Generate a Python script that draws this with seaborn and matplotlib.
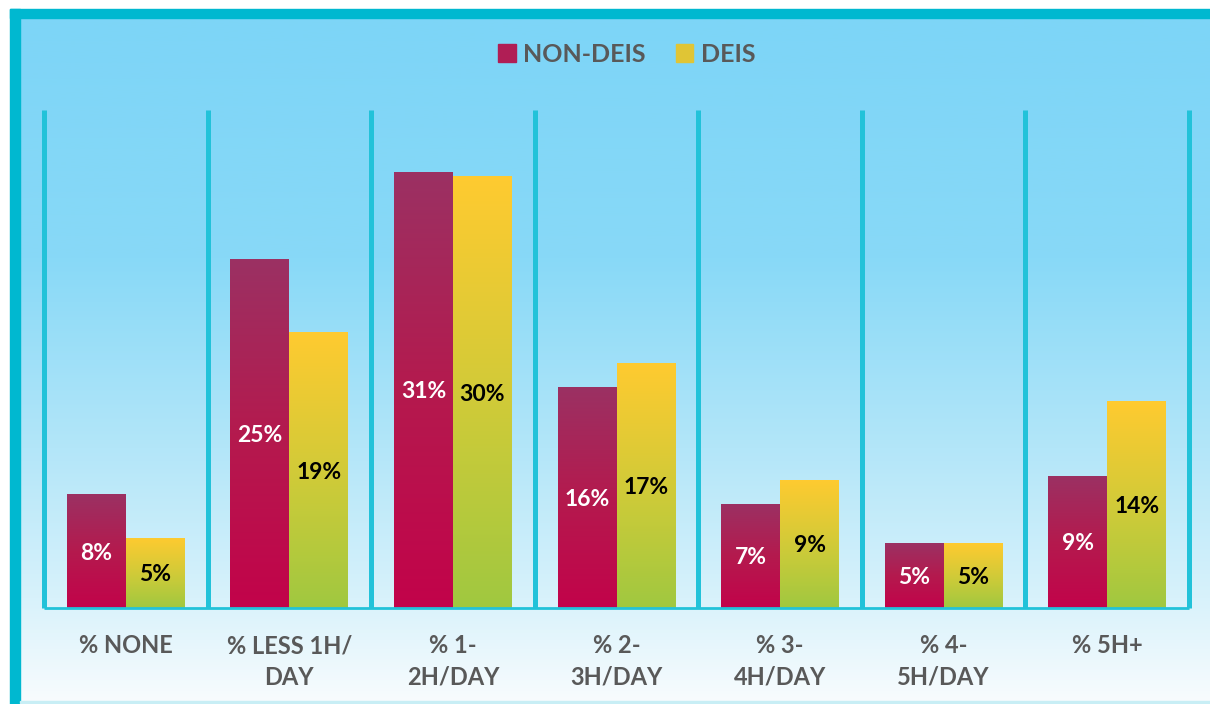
import matplotlib.pyplot as plt
import seaborn as sns
import pandas as pd
import numpy as np
from matplotlib.colors import LinearSegmentedColormap
from matplotlib.patches import Rectangle, Patch

# Dados
categorias = ["% NONE", "% LESS 1H/\nDAY", "% 1-\n2H/DAY", "% 2-\n3H/DAY",
              "% 3-\n4H/DAY", "% 4-\n5H/DAY", "% 5H+"]
non_deis = [8.1, 24.8, 31.0, 15.7, 7.4, 4.6, 9.4]
deis = [5.0, 19.6, 30.7, 17.4, 9.1, 4.6, 14.7]
non_deis_labels = ["8%", "25%", "31%", "16%", "7%", "5%", "9%"]
deis_labels = ["5%", "19%", "30%", "17%", "9%", "5%", "14%"]
grupos = ["NON-DEIS", "DEIS"]

df = pd.DataFrame({
    "Categoria": categorias * 2,
    "Valor": non_deis + deis,
    "Grupo": [grupos[0]] * len(categorias) + [grupos[1]] * len(categorias),
})

sns.set_theme(style="white")
plt.rcParams['font.family'] = ['Lato', 'DejaVu Sans']

W, H = 1210, 704
fig = plt.figure(figsize=(W / 100, H / 100), dpi=100)
fig.patch.set_facecolor("white")

# fundo com gradiente + moldura
ax_bg = fig.add_axes([0, 0, 1, 1], zorder=0)
ax_bg.set_xlim(0, W)
ax_bg.set_ylim(H, 0)
ax_bg.axis("off")
bg_cmap = LinearSegmentedColormap.from_list(
    "bg", [(0.0, "#7DD5F7"), (0.35, "#88D9F7"), (0.63, "#B3E6F9"),
           (0.85, "#D8F2FB"), (1.0, "#F8FCFE")])
grad = np.linspace(0, 1, 256).reshape(-1, 1)
ax_bg.imshow(grad, extent=[20, W, 702, 18], cmap=bg_cmap, aspect="auto")
ax_bg.add_patch(Rectangle((10, 9), 10, H - 9, color="#00B8D0"))
ax_bg.add_patch(Rectangle((10, 9), W - 10, 9, color="#00B8D0"))
ax_bg.add_patch(Rectangle((20, 701), W - 20, 2, color="#C8EEF5"))

ax = fig.add_axes([44 / W, 96 / H, 1145 / W, 498 / H], zorder=1)
ax.set_facecolor("none")

sns.barplot(data=df, x="Categoria", y="Valor", hue="Grupo",
            palette=["#B01E55", "#E0C535"], width=0.72, legend=False, ax=ax)

cmaps = [
    LinearSegmentedColormap.from_list("nd", ["#C2034A", "#B41A4E", "#9B3163"]),
    LinearSegmentedColormap.from_list("d", ["#A0C840", "#D2CB38", "#FFCA30"]),
]
bar_grad = np.linspace(1, 0, 256).reshape(-1, 1)
for cont, cm in zip(ax.containers, cmaps):
    for p in cont:
        x, w, h = p.get_x(), p.get_width(), p.get_height()
        im = ax.imshow(bar_grad, extent=[x, x + w, 0, h], cmap=cm,
                       aspect="auto", zorder=2)
        im.set_clip_path(p)
        p.set_facecolor("none")
        p.set_edgecolor("none")

for cont, labs, cor in zip(ax.containers, [non_deis_labels, deis_labels], ["white", "black"]):
    txts = ax.bar_label(cont, labels=labs, label_type="center", color=cor,
                        fontsize=16.5, fontweight="bold", zorder=4)
    for t in txts:
        t.set_va("center_baseline")

ax.set_xlim(-0.5, len(categorias) - 0.5)
ax.set_ylim(0, 35.4)

# linhas verticais separando as categorias
linha = "#22C2D9"
ax.vlines(np.arange(len(categorias) + 1) - 0.5, 0, 35.4, color=linha,
          lw=3.6, clip_on=False, zorder=1)
ax.hlines(0, -0.5, len(categorias) - 0.5, color=linha, lw=2, clip_on=False, zorder=3)

sns.despine(ax=ax, left=True, bottom=True)
ax.set_yticks([])
ax.set_xlabel("")
ax.set_ylabel("")
ax.tick_params(axis="x", length=0, pad=19, labelsize=17, labelcolor="#595959")
for t in ax.get_xticklabels():
    t.set_fontweight("bold")
    t.set_linespacing(1.45)

handles = [Patch(color="#B01E55", label="NON-DEIS"), Patch(color="#E0C535", label="DEIS")]
fig.legend(handles=handles, loc="center", bbox_to_anchor=(0.518, 1 - 54 / H), ncol=2,
           frameon=False, handlelength=0.7, handleheight=0.7, handletextpad=0.3,
           columnspacing=1.2, prop={"size": 18, "weight": "bold"}, labelcolor="#595959")

plt.savefig("out.png", dpi=100)
